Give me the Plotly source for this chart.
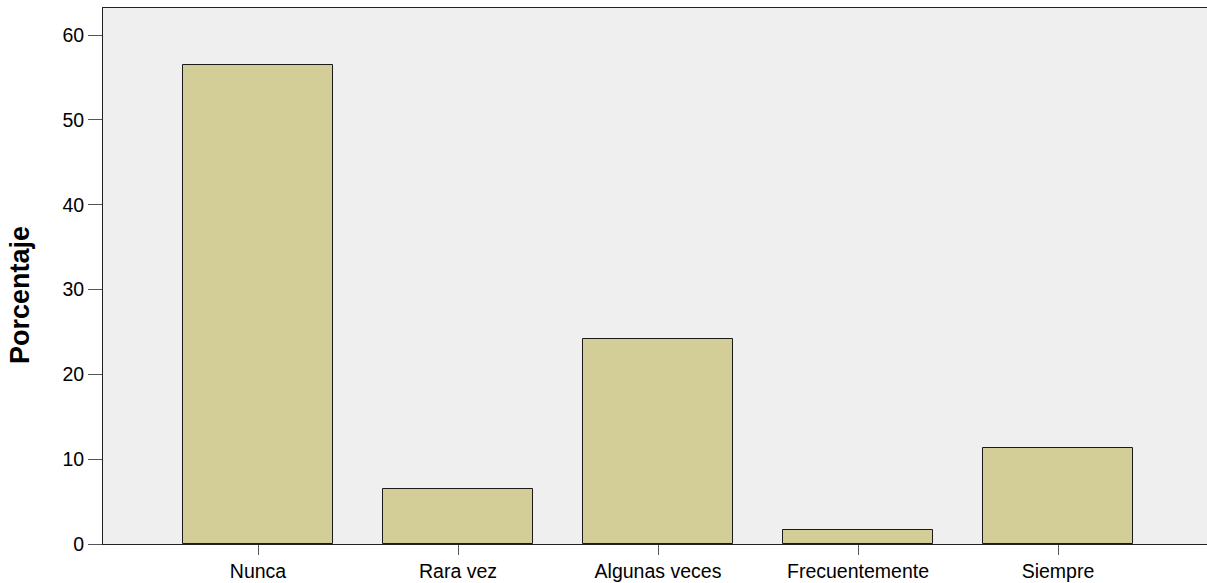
import plotly.graph_objects as go

categories = ["Nunca", "Rara vez", "Algunas veces", "Frecuentemente", "Siempre"]
percentages = [56.45, 6.45, 24.19, 1.61, 11.29]
y_ticks = [0, 10, 20, 30, 40, 50, 60]

fig = go.Figure(
    go.Bar(
        x=list(range(len(categories))),
        y=percentages,
        width=0.75,
        marker=dict(color="#D3CE98", line=dict(color="#1a1a1a", width=1)),
    )
)

font_family = "Liberation Sans, Arial, sans-serif"

fig.update_layout(
    width=1207,
    height=583,
    margin=dict(l=103, r=0, t=8, b=39),
    paper_bgcolor="white",
    plot_bgcolor="#EFEFEF",
    showlegend=False,
    font=dict(family=font_family, size=19.5, color="black"),
    bargap=0,
)

fig.update_xaxes(
    range=[-0.775, 4.745],
    tickmode="array",
    tickvals=list(range(len(categories))),
    ticktext=categories,
    showline=True,
    linecolor="#222222",
    linewidth=1,
    mirror=True,
    ticks="outside",
    ticklen=10,
    tickcolor="#555555",
    tickwidth=1,
    showgrid=False,
    zeroline=False,
    tickfont=dict(size=19.5, family=font_family, color="black"),
)

fig.update_yaxes(
    range=[0, 63.2],
    tickmode="array",
    tickvals=y_ticks,
    showline=True,
    linecolor="#222222",
    linewidth=1,
    mirror=False,
    ticks="outside",
    ticklen=14,
    tickcolor="#555555",
    tickwidth=1,
    showgrid=False,
    zeroline=False,
    tickfont=dict(size=19.5, family=font_family, color="black"),
)

fig.add_annotation(
    text="<b>Porcentaje</b>",
    xref="paper", yref="paper",
    x=(20 - 103) / 1104, y=(583 - 39 - 295) / 536,
    xanchor="center", yanchor="middle",
    textangle=-90,
    showarrow=False,
    font=dict(size=27, family=font_family, color="black"),
)

fig.write_html(
    "out.html",
    config={"displayModeBar": False},
    post_script="document.body.style.margin='0';document.body.style.overflow='hidden';",
)
